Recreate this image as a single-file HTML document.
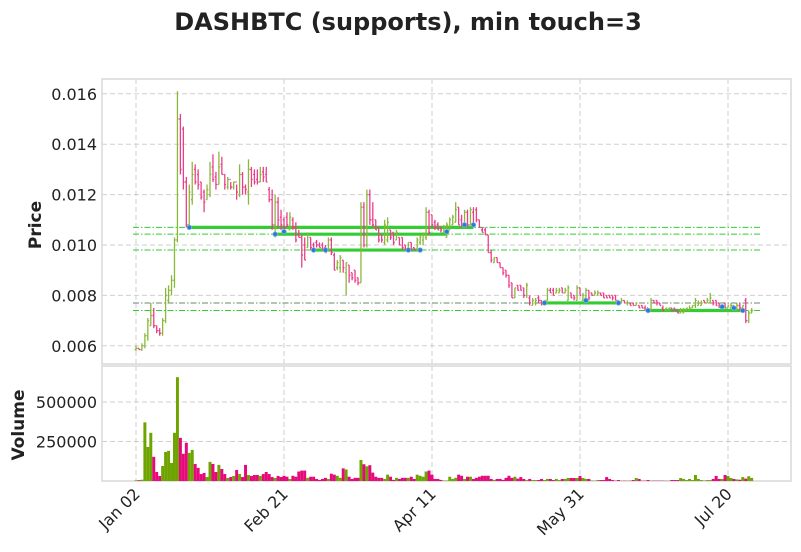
<!DOCTYPE html>
<html><head><meta charset="utf-8"><style>
body{margin:0;background:#fff;}
svg{display:block;font-family:"DejaVu Sans","Liberation Sans",sans-serif;}
</style></head><body>
<svg id="chart" width="801" height="552" viewBox="0 0 801 552" xmlns="http://www.w3.org/2000/svg">
<rect width="801" height="552" fill="#fff"/>
<text x="408" y="30" text-anchor="middle" font-size="24" font-weight="bold" fill="#222">DASHBTC (supports), min touch=3</text>
<g id="grid"></g>
<rect x="102" y="79" width="689" height="285" fill="none" stroke="#d8d8d8" stroke-width="1.5"/>
<rect x="102" y="366" width="689" height="115" fill="none" stroke="#d8d8d8" stroke-width="1.5"/>
<g id="supports"></g>
<g id="bars"></g>
<g id="vols"></g>
<g id="markers"></g>
<g id="axes"></g>
<text transform="translate(41,225) rotate(-90)" text-anchor="middle" font-size="17" font-weight="bold" fill="#222">Price</text>
<text transform="translate(24,425) rotate(-90)" text-anchor="middle" font-size="17" font-weight="bold" fill="#222">Volume</text>
</svg>
<script>
// prices in units of 1e-4 BTC
const opens=[58.5,59,58.5,60,64,68,72,68,66,65,70,78,82,86,
102,150,146,125,108,118,130,128,125,121,118,120,131,127,124,132,128,123,126,123,125,120,128,123,121,130,128,126,125,129,128,122,118,108,117,111,110,
111,106,110,107,104,103,100,99,103,100,101,100,100,99,98,102,96,91,91,94,89,92,89,90,87,85,115,100,120,110,110,107,104,101,102,106,105,102,103,103,100,98,101,99,98,101,102,103,113,112,109,108,107,105,
103,106,108,109,115,110,108,113,108,113,114,110,106,106,104,97,93,95,93,91,90,88,85,79,84,84,83,80,79,76,77,79,78,77,78,82,82,81,81,83,81,78,81,80,78,83,78,79,82,81,80,80,81,81,80,
80,80,80,78,77,78,77,77,77,76,76,76,75,75,74,78,78,77,75,74,74,75,75,74,73,73,74,74,75,76,76,76,78,77,77,78,78,77,75,77,75,75,76,75,76,75,78,70,73];
const highs=[60,59,61,65,71,77,75,68,67,71,83,84,88,103,
161,152,147,127,124,133,132,130,125,122,124,133,136,129,137,135,128,127,125,125,124,132,129,124,134,131,130,130,131,131,131,123,122,120,119,114,111,
113,113,111,109,106,104,103,105,103,101,102,101,101,100,103,103,97,94,96,94,93,92,89,90,87,117,117,122,122,117,110,107,104,110,111,106,105,106,103,103,100,101,101,99,103,104,105,115,114,112,110,109,107,108,
109,111,112,117,115,112,114,114,115,115,115,110,107,107,104,98,95,95,93,91,90,88,85,83,84,84,83,85,80,79,79,80,78,78,83,83,83,83,83,83,83,84,81,80,84,83,81,83,82,81,82,82,81,81,80,
80,80,80,78,79,78,78,77,77,77,76,76,76,75,79,78,78,77,76,75,75,75,75,74,75,75,75,76,76,79,78,78,78,79,81,78,78,77,76,77,76,77,76,77,77,76,79,74,75];
const lows=[58,58.5,58,59,62,68,67,65,64,64,69,77,80,83,
101,128,122,107,107,116,124,122,118,113,118,119,125,122,124,128,122,122,122,122,118,119,120,120,116,123,124,124,125,125,125,117,106,103,107,106,105,
107,106,106,101,103,91,94,99,98,98,99,99,98,97,98,96,90,90,89,89,80,85,86,85,84,85,99,99,108,107,106,101,101,100,101,102,100,102,100,98,98,98,98,98,98,100,100,102,104,107,106,106,105,105,
103,106,108,109,108,107,108,107,108,107,109,107,105,104,97,93,93,93,91,88,87,83,79,79,82,82,79,79,76,76,76,77,76,76,78,81,80,81,81,81,81,78,79,78,78,80,78,79,78,80,80,80,80,79,79,
79,78,78,76,77,77,76,76,76,76,75,75,74,73,74,77,76,76,74,74,74,74,74,73,73,73,74,74,75,75,76,76,77,77,77,76,76,75,75,75,75,75,74,74,74,74,69,69,73];
const closes=[59,58.5,60,64,70,72,68,66,65,70,80,82,86,102,
150,130,125,108,121,128,125,124,119,117,122,128,126,124,131,128,124,126,123,125,121,128,123,122,130,126,125,125,128,127,125,118,108,117,110,108,107,
108,111,107,102,103,96,94,104,99,98,100,99,98,97,102,97,90,93,95,91,93,88,87,86,85,115,100,120,110,108,106,102,102,108,109,103,101,105,100,99,98,101,98,98,102,103,104,113,105,108,107,106,106,107,
108,110,111,114,108,108,113,108,114,108,110,107,105,104,97,94,95,93,91,89,88,84,79,83,82,82,80,84,77,78,78,78,77,78,82,81,80,82,82,81,82,83,79,79,83,80,80,82,79,80,81,81,80,79,79,
79,79,78,77,78,77,77,76,76,77,75,75,74,74,78,77,77,76,74,75,75,74,74,73,74,74,75,75,76,78,77,77,77,78,79,77,76,76,76,75,76,76,75,76,75,76,70,73,74];
// volume in thousands
const volumes=[4,5,8,371,216,305,153,57,32,95,184,191,114,305,657,273,172,242,178,197,108,83,44,51,25,121,108,57,102,76,44,19,25,32,70,44,25,102,38,32,38,38,32,44,57,44,25,19,32,25,
33,27,13,33,27,60,66,66,20,27,27,13,7,13,20,13,46,40,33,20,80,73,27,13,20,20,133,106,93,100,53,27,20,20,13,40,27,7,20,13,20,20,20,27,13,40,33,27,60,66,40,13,13,7,3,3,27,13,20,40,33,13,27,27,13,20,27,33,33,33,13,7,13,13,7,20,33,20,27,
15,25,13,6,13,6,6,6,13,6,13,13,6,13,6,13,13,19,19,19,19,32,19,13,13,2,2,6,6,6,25,13,6,2,6,2,2,2,2,6,19,13,2,2,6,2,2,2,2,2,2,2,6,6,6,19,13,6,13,6,38,13,6,2,6,6,13,32,13,13,38,32,19,13,10,8,25,15,30,20];
const dateLabels=["Jan 02","Feb 21","Apr 11","May 31","Jul 20"];
const dateTickIdx=[0,50,100,150,200];
const priceTicks=[0.006,0.008,0.010,0.012,0.014,0.016];
const volTicks=[250000,500000];
const supportPrices=[0.0107,0.01043,0.0098,0.0077,0.0074];
const supportStart=[18,47,60,138,173];
const supportEnd=[114,105,96,163,205];
const touchIdx=[18,47,50,60,64,92,96,105,111,114,138,152,163,173,198,202,205];
const touchPrice=[0.0107,0.01043,0.01053,0.0098,0.0098,0.0098,0.0098,0.01053,0.0108,0.0108,0.0077,0.0078,0.0077,0.0074,0.00755,0.0075,0.0074];

const NS="http://www.w3.org/2000/svg";
const xS=i=>136+2.96*i;
const yP=p=>245-(p-0.010)/0.002*50.4;
const yV=v=>481-v/6329;
function mk(tag,attrs,parent){const e=document.createElementNS(NS,tag);for(const k in attrs)e.setAttribute(k,attrs[k]);parent.appendChild(e);return e;}
const grid=document.getElementById('grid'),axes=document.getElementById('axes');
priceTicks.forEach(t=>{
  const y=yP(t);
  const g=mk('line',{x1:102,x2:791,y1:y,y2:y,stroke:'#cfcfcf','stroke-dasharray':'5,3','stroke-width':1},grid);
  
  
  const tx=mk('text',{x:97,y:y+6,'text-anchor':'end','font-size':16,fill:'#222'},axes);
  tx.textContent=t.toFixed(3);
  
  
});
volTicks.forEach(t=>{
  const y=yV(t);
  const g=mk('line',{x1:102,x2:791,y1:y,y2:y,stroke:'#cfcfcf','stroke-dasharray':'5,3','stroke-width':1},grid);
  
  
  const tx=mk('text',{x:97,y:y+6,'text-anchor':'end','font-size':16,fill:'#222'},axes);
  tx.textContent=String(t);
  
  
});
dateTickIdx.forEach((d,k)=>{
  const x=xS(d);
  [[79,364],[366,481]].forEach(r=>{
    const g=mk('line',{x1:x,x2:x,y1:r[0],y2:r[1],stroke:'#cfcfcf','stroke-dasharray':'5,3','stroke-width':1},grid);
    
    
  });
  const tx=mk('text',{transform:`translate(${x+5},${495}) rotate(-45)`,'text-anchor':'end','font-size':16,fill:'#222'},axes);
  tx.textContent=dateLabels[k];
  
  
});
const sup=document.getElementById('supports');
supportPrices.forEach((p,k)=>{
  const y=yP(p);
  const l=mk('line',{x1:133,x2:761,y1:y,y2:y,stroke:k==3?'#6a8a6a':'#33cc33','stroke-width':1,'stroke-dasharray':'6,2,1.5,2'},sup);
  
  
  const s=mk('line',{x1:xS(supportStart[k]),x2:xS(supportEnd[k]),y1:y,y2:y,stroke:'#33cc33','stroke-width':3.2},sup);
  
  
});
const bars=document.getElementById('bars');
const vols=document.getElementById('vols');
closes.forEach((c,i)=>{
  const up=c>=opens[i];
  const col=up?'#8ab83a':'#ec3d8c';
  const x=xS(i);
  const g=mk('g',{stroke:col,'stroke-width':1.3},bars);
  
  
  mk('line',{x1:x,x2:x,y1:yP(highs[i]/1e4),y2:yP(lows[i]/1e4)},g);
  mk('line',{x1:x-1.3,x2:x,y1:yP(opens[i]/1e4),y2:yP(opens[i]/1e4)},g);
  mk('line',{x1:x,x2:x+1.3,y1:yP(c/1e4),y2:yP(c/1e4)},g);
  const v=volumes[i]*1000;
  const r=mk('rect',{x:x-1.48,y:yV(v),width:2.96,height:481-yV(v),fill:up?'#6ea400':'#e5097b'},vols);
  
  
});
const mks=document.getElementById('markers');
touchIdx.forEach((d,k)=>{
  const c=mk('circle',{cx:xS(d),cy:yP(touchPrice[k]),r:2.3,fill:'#2a7ad0',stroke:'#7fb5e8','stroke-width':0.8},mks);
  
  
});
</script>
</body></html>
